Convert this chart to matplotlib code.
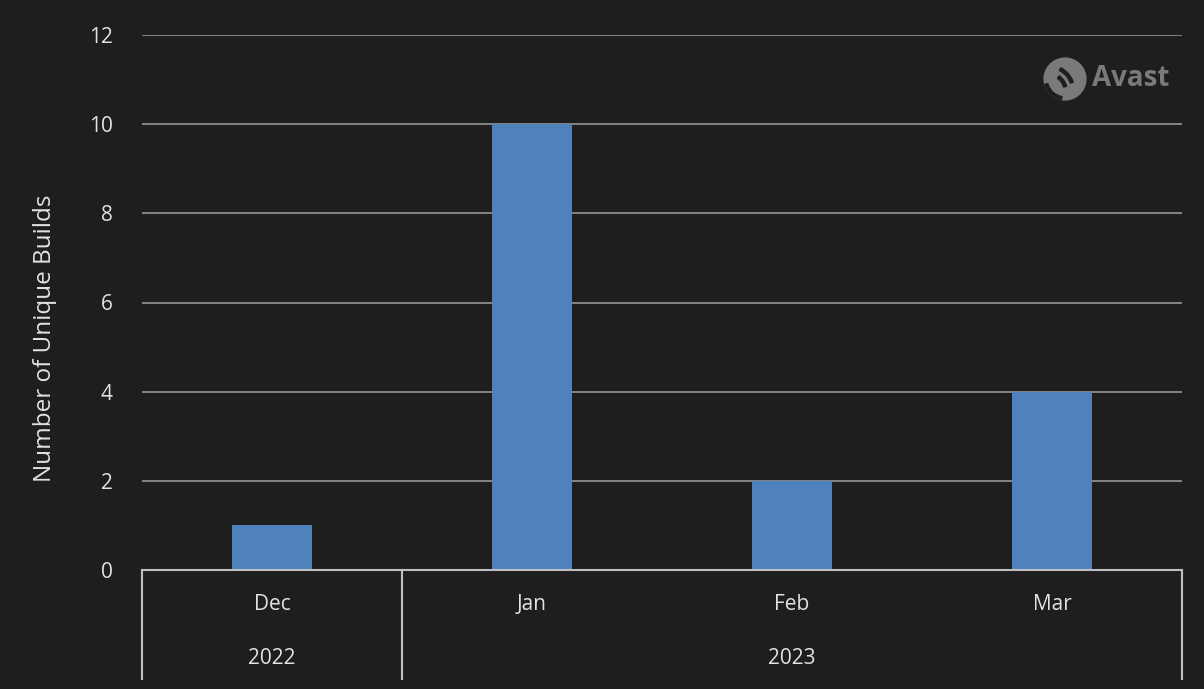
import matplotlib.pyplot as plt
from matplotlib.patches import Circle, Wedge

months = ["Dec", "Jan", "Feb", "Mar"]
years = ["2022", "2023"]
year_spans = [(0, 0), (1, 3)]  # first and last month index of each year
builds = [1, 10, 2, 4]

bg = "#1e1e1e"
text_color = "#e2e2e2"
bar_color = "#4f81bd"

plt.rcParams["font.family"] = ["Open Sans", "DejaVu Sans"]

fig = plt.figure(figsize=(12.04, 6.89), dpi=100, facecolor=bg)
ax = fig.add_axes([142 / 1204, 119 / 689, 1040 / 1204, 535 / 689], facecolor=bg)

x = list(range(len(months)))
ax.bar(x, builds, width=0.31, color=bar_color, zorder=3)

ax.set_xlim(-0.5, len(months) - 0.5)
ax.set_ylim(0, 12)
ax.set_yticks(range(0, 13, 2))
ax.tick_params(axis="y", length=0, pad=21, labelsize=15, colors=text_color)
ax.tick_params(axis="x", length=0, labelbottom=False)
ax.yaxis.grid(True, color="#8c8c8c", linewidth=1.3, zorder=0)
for side in ["top", "right", "left"]:
    ax.spines[side].set_visible(False)
ax.spines["bottom"].set_color("#bfbfbf")
ax.spines["bottom"].set_linewidth(1.5)
ax.spines["bottom"].set_zorder(4)

ax.set_ylabel("Number of Unique Builds", fontsize=17.5, color=text_color)
ax.yaxis.set_label_coords((57 - 142) / 1040, (570 - 338) / 535)

# two-level category axis
trans = ax.get_xaxis_transform()
bottom = -109 / 535
for sep in [-0.5, 0.5, len(months) - 0.5]:
    ax.plot([sep, sep], [0, bottom], transform=trans, color="#bfbfbf",
            linewidth=1.5, clip_on=False)
for i, m in enumerate(months):
    ax.text(i, -35 / 535, m, transform=trans, ha="center", va="center",
            fontsize=15, color=text_color)
for yr, (a, b) in zip(years, year_spans):
    ax.text((a + b) / 2, -89 / 535, yr, transform=trans, ha="center", va="center",
            fontsize=15, color=text_color)

# watermark
fig.text(1092 / 1204, (689 - 79) / 689, "Avast", fontsize=20, color="#7a7a7a",
         ha="left", va="center", fontweight="bold")
icon = fig.add_axes([1043 / 1204, (689 - 101) / 689, 44 / 1204, 44 / 689])
icon.set_xlim(-1, 1)
icon.set_ylim(-1, 1)
icon.set_aspect("equal")
icon.axis("off")
icon.add_patch(Circle((0, 0), 0.95, color="#7a7a7a"))
icon.add_patch(Wedge((-0.75, -0.55), 1.2, 20, 62, width=0.14, color=bg))
icon.add_patch(Wedge((-0.75, -0.55), 0.85, 15, 55, width=0.14, color=bg))
icon.add_patch(Wedge((0, 0), 0.95, 195, 260, width=0.14, color=bg))

fig.savefig("out.png", dpi=100, facecolor=bg)
